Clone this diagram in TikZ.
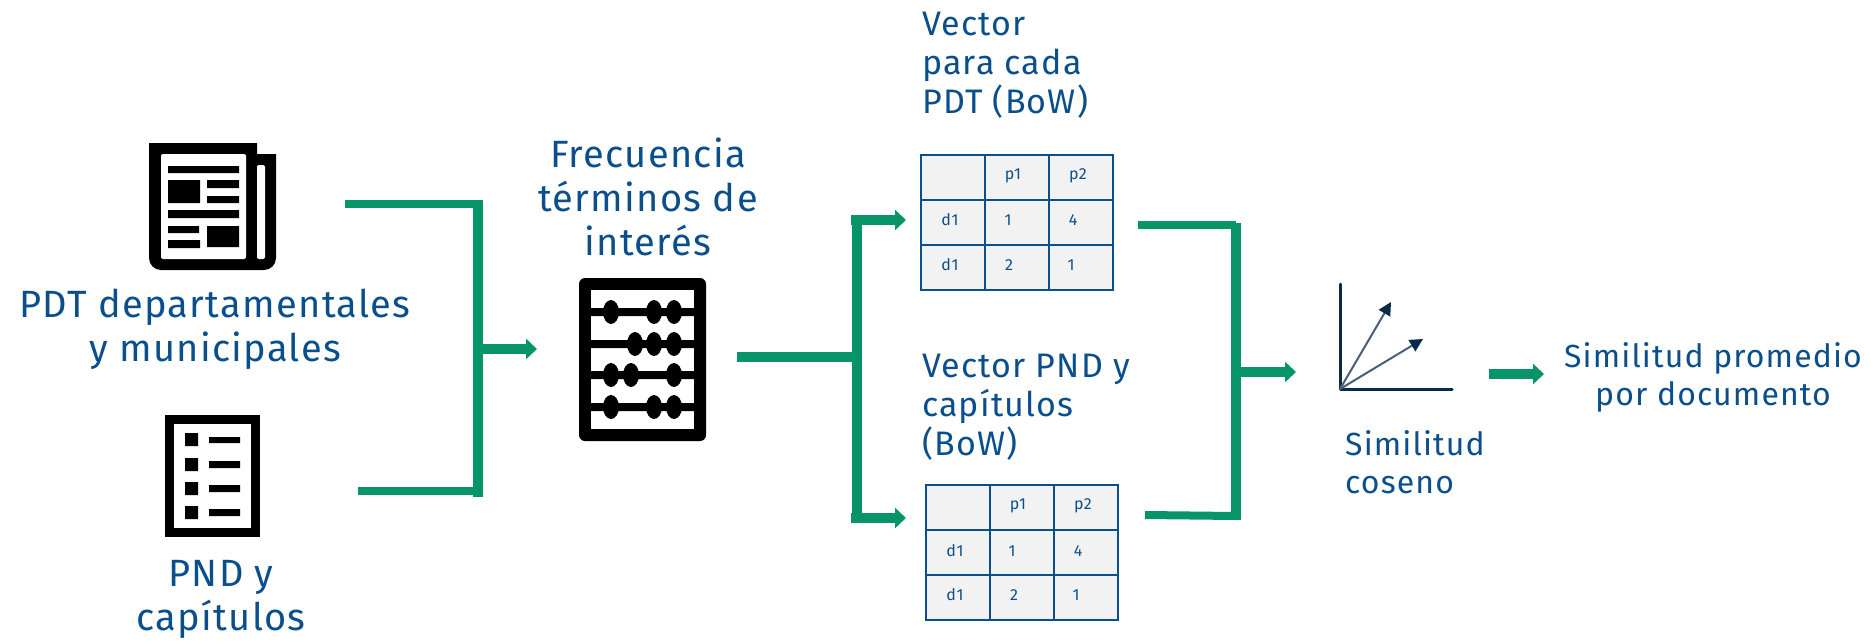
\documentclass[tikz,border=0pt]{standalone}
\usepackage{fontspec}
\setmainfont[LetterSpace=3.5]{Fira Sans}
\usetikzlibrary{arrows.meta}
\definecolor{gr}{HTML}{079468}
\definecolor{bl}{HTML}{0A4F8C}
\definecolor{nv}{HTML}{0B2A4A}
\tikzset{
 lbl/.style={text=bl,font=\fontsize{38}{44}\selectfont,align=center,inner sep=0pt},
 lblvec/.style={lbl,font=\fontsize{34}{39}\selectfont},
 lblsm/.style={lbl,font=\fontsize{32}{38}\selectfont},
 cell/.style={text=bl,font=\fontsize{16}{18}\selectfont,inner sep=0pt},
 wire/.style={draw=gr,line width=8pt},
 bar/.style={draw=gr,line width=10pt},
 warrow/.style={draw=gr,line width=10pt,-{Triangle[length=11pt,width=20pt]}},
 ghost/.style={inner sep=0pt,minimum width=0pt,draw=none},
}
\begin{document}
\begin{tikzpicture}[x=1pt,y=-1pt]
\useasboundingbox (0,0) rectangle (1871,640);
% newspaper icon
\fill[black] (149,143) -- (257,143) -- (257,154) -- (276,154) -- (276,258) arc[start angle=0,end angle=90,radius=12] -- (161,270) arc[start angle=90,end angle=180,radius=12] -- cycle;
\fill[white,rounded corners=2pt] (161,154) -- (246,154) -- (246,259) -- (161,259) -- cycle;
\fill[white,rounded corners=2pt] (257,165) rectangle (265,259);
\fill[black] (168,166) rectangle (239,173) (168,180) rectangle (200,203)
 (207,180) rectangle (239,188) (207,196) rectangle (239,203)
 (168,210) rectangle (239,218) (168,226) rectangle (199,233)
 (168,240) rectangle (200,248) (207,226) rectangle (239,247);
\node[ghost] (news) at (212,206) {};
% list icon
\fill[black] (165,415) rectangle (260,537);
\fill[white] (174,424) rectangle (251,528);
\fill[black] (185,433) rectangle (198,446) (185,458) rectangle (198,471)
 (185,482) rectangle (198,495) (185,506) rectangle (198,519)
 (209,437) rectangle (240,443) (209,461) rectangle (240,468)
 (209,485) rectangle (240,492) (209,509) rectangle (240,516);
\node[ghost] (lista) at (212,476) {};
% abacus icon
\fill[black,rounded corners=6pt] (579,278) rectangle (706,441);
\fill[white] (591,290) rectangle (694,429);
\fill[black] (591,308) rectangle (694,316) (591,340) rectangle (694,348)
 (591,371) rectangle (694,379) (591,403) rectangle (694,411);
\foreach \bx/\by in {611/312,654/312,674/312,635/344,654/344,674/344,611/375,631/375,674/375,611/407,654/407,674/407}
 \fill[black] (\bx,\by) ellipse [x radius=8,y radius=12];
\node[ghost] (abaco) at (642,360) {};
% table 1
\fill[black!5] (921,155) rectangle (1113,290);
\draw[draw=bl,line width=2pt] (921,155) rectangle (1113,290)
 (985,155) -- (985,290) (1049,155) -- (1049,290) (921,200) -- (1113,200) (921,245) -- (1113,245);
\foreach \tx/\ty/\tt in {1013/176/p1,1078/176/p2,950/220/d1,1008/220/1,1073/220/4,950/265/d1,1009/265/2,1071/265/1}
 \node[cell] at (\tx,\ty) {\tt};
% table 2
\fill[black!5] (926,485) rectangle (1118,620);
\draw[draw=bl,line width=2pt] (926,485) rectangle (1118,620)
 (990,485) -- (990,620) (1054,485) -- (1054,620) (926,530) -- (1118,530) (926,575) -- (1118,575);
\foreach \tx/\ty/\tt in {1018/506/p1,1083/506/p2,955/551/d1,1012/551/1,1078/551/4,955/595/d1,1014/595/2,1076/595/1}
 \node[cell] at (\tx,\ty) {\tt};
% cosine icon
\draw[nv,line width=3pt,line cap=round,line join=round] (1340,284) -- (1340,389) -- (1452,389);
\coordinate (origen) at (1340,389);
\coordinate (v1) at (1391,302);
\coordinate (v2) at (1423,339);
\draw[nv!75,line width=2pt,-{Triangle[length=13pt,width=13pt,color=nv]}] (origen) -- (v1);
\draw[nv!75,line width=2pt,-{Triangle[length=13pt,width=13pt,color=nv]}] (origen) -- (v2);
% labels
\node[lbl] (pdt) at (215,329) {PDT departamentales\\y municipales};
\node[lbl] (pnd) at (221,599) {PND y\\capítulos};
\node[lbl] (frec) at (648,197) {Frecuencia\\términos de\\interés};
\node[lblvec,anchor=north west,align=left] (vpdt) at (922,12) {Vector\\para cada\\PDT (BoW)};
\node[lblvec,anchor=north west,align=left] (vpnd) at (922,354) {Vector PND y\\capítulos\\(BoW)};
\node[lblsm,anchor=north west,align=left] (simc) at (1345,430) {Similitud\\coseno};
\node[lblsm] (simp) at (1713,377) {Similitud promedio\\por documento};
% connector anchors
\coordinate (a1) at (345,204);
\coordinate (a2) at (358,491);
\coordinate (j1t) at (478,204);
\coordinate (j1b) at (478,491);
\coordinate (j1T) at (478,200);
\coordinate (j1B) at (478,497);
\coordinate (j1m) at (483,349);
\coordinate (f1) at (537,349);
\coordinate (b0) at (737,357);
\coordinate (j2m) at (857,357);
\coordinate (j2t) at (857,215);
\coordinate (j2b) at (857,523);
\coordinate (t1s) at (851,220);
\coordinate (t2s) at (851,518);
\coordinate (t1l) at (906,220);
\coordinate (t2l) at (906,518);
\coordinate (c1) at (1138,225);
\coordinate (c2) at (1145,515);
\coordinate (j3t) at (1236,225);
\coordinate (j3b) at (1236,516);
\coordinate (j3T) at (1236,223);
\coordinate (j3B) at (1236,520);
\coordinate (j3m) at (1241,372);
\coordinate (g1) at (1296,372);
\coordinate (s0) at (1489,374);
\coordinate (s1) at (1544,374);
% connectors
\draw[wire] (a1) -- (j1t);
\draw[wire] (a2) -- (j1b);
\draw[bar] (j1T) -- (j1B);
\draw[warrow] (j1m) -- (f1);
\draw[bar] (b0) -- (j2m);
\draw[bar] (j2t) -- (j2b);
\draw[warrow] (t1s) -- (t1l);
\draw[warrow] (t2s) -- (t2l);
\draw[wire] (c1) -- (j3t);
\draw[wire] (c2) -- (j3b);
\draw[bar] (j3T) -- (j3B);
\draw[warrow] (j3m) -- (g1);
\draw[warrow] (s0) -- (s1);
\end{tikzpicture}
\end{document}
